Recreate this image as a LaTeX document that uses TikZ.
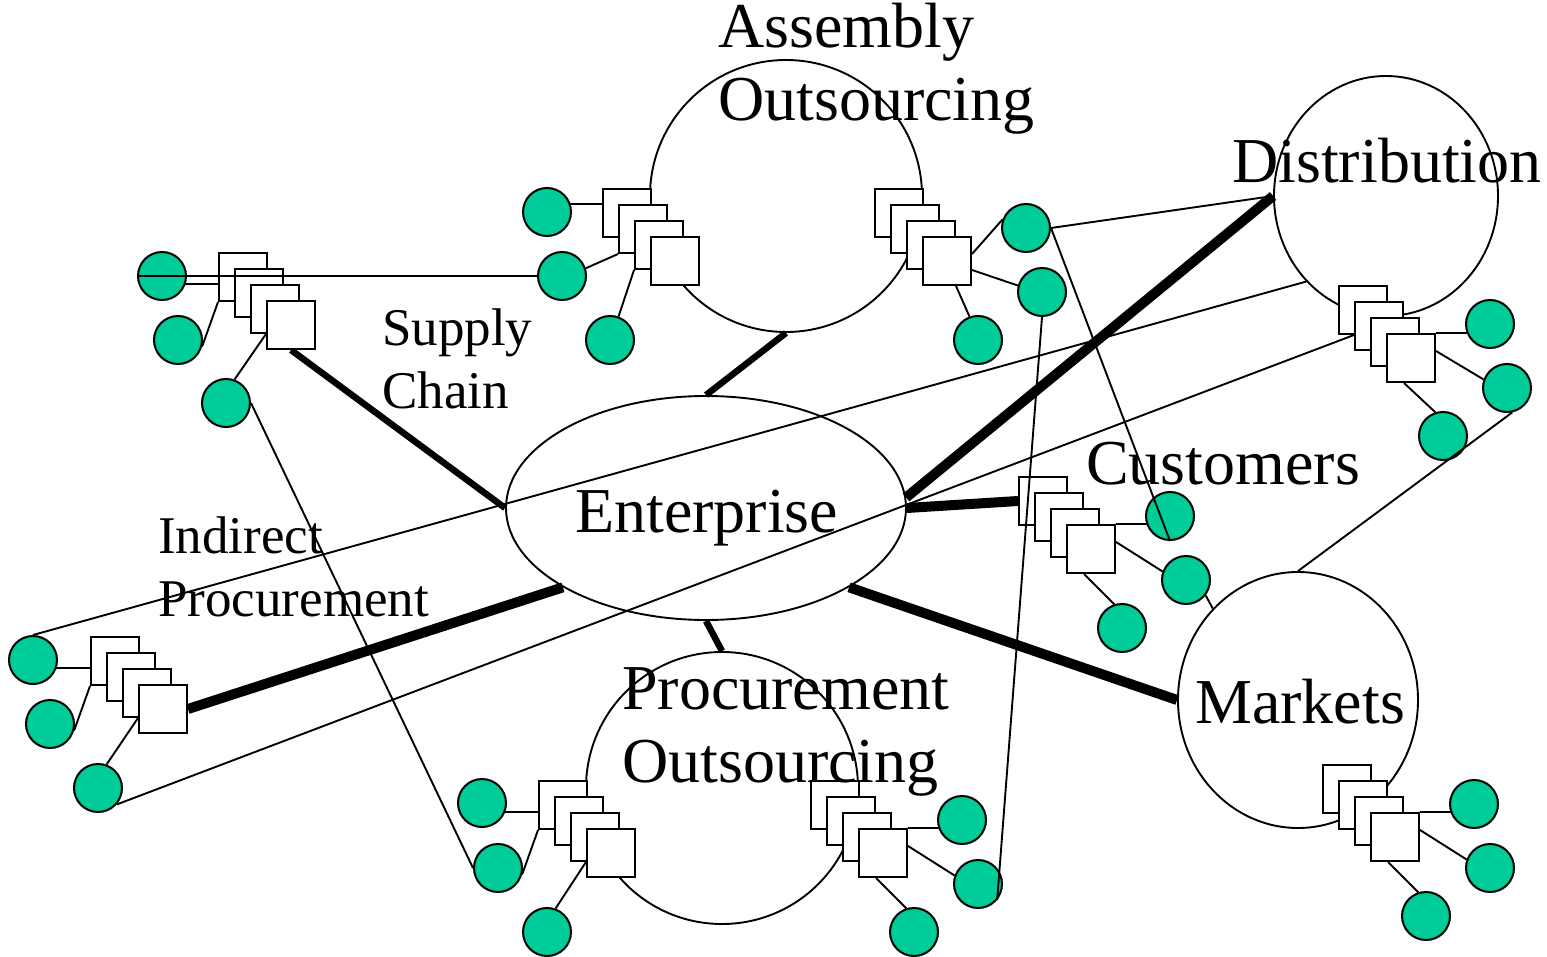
\documentclass[tikz,border=0pt]{standalone}
\usepackage{fontspec}
\setmainfont{Liberation Serif}
\usetikzlibrary{shapes.geometric,calc}
\definecolor{nodegreen}{RGB}{0,204,153}
\pgfdeclarelayer{paper}
\pgfdeclarelayer{wires}
\pgfsetlayers{paper,wires,main}

\tikzset{
  bigshape/.style={draw, line width=1.9pt, inner sep=0pt},
  stackbox/.style={draw, fill=white, line width=2pt, minimum size=48pt, inner sep=0pt, anchor=north west},
  dot/.style={circle, draw, fill=nodegreen, line width=2pt, minimum size=48pt, inner sep=0pt},
  wire/.style={line width=1.9pt},
  heavy/.style={line width=10pt},
  medium/.style={line width=6.5pt},
  lbl/.style={inner sep=0pt, anchor=base west, font=\fontsize{64}{73}\selectfont},
  smalllbl/.style={inner sep=0pt, anchor=base west, font=\fontsize{53}{63}\selectfont},
}

% four overlapping squares, each 16 units further right and down
\newcommand\boxstack[3]{%
  \foreach \k in {1,2,3,4}{\node[stackbox] (#1\k) at ({#2+16*(\k-1)},{#3+16*(\k-1)}) {};}}

\begin{document}
\begin{tikzpicture}[x=1pt, y=-1pt]
\useasboundingbox (0,0) rectangle (1547,957);
\begin{pgfonlayer}{paper}
  \fill[white] (0,0) rectangle (1547,957);
\end{pgfonlayer}

% main groups
\node[bigshape, ellipse, minimum width=400pt, minimum height=224pt] (ent) at (706,508) {};
\node[bigshape, circle, minimum size=272pt] (asm) at (786,196) {};
\node[bigshape, ellipse, minimum width=224pt, minimum height=240pt] (dist) at (1386,196) {};
\node[bigshape, ellipse, minimum width=240pt, minimum height=256pt] (mkt) at (1298,700) {};
\node[bigshape, circle, minimum size=272pt] (proc) at (722,788) {};

% square stacks
\boxstack{A}{218}{252}
\boxstack{B}{602}{188}
\boxstack{C}{874}{188}
\boxstack{D}{1338}{285}
\boxstack{E}{90}{636}
\boxstack{F}{538}{780}
\boxstack{G}{810}{780}
\boxstack{H}{1018}{476}
\boxstack{I}{1322}{764}

% green members
\node[dot] (A-c1) at (162,276) {};
\node[dot] (A-c2) at (178,340) {};
\node[dot] (A-c3) at (226,403) {};
\node[dot] (B-c1) at (547,212) {};
\node[dot] (B-c2) at (562,276) {};
\node[dot] (B-c3) at (610,340) {};
\node[dot] (C-c1) at (1026,228) {};
\node[dot] (C-c2) at (1042,292) {};
\node[dot] (C-c3) at (978,340) {};
\node[dot] (D-c1) at (1490,324) {};
\node[dot] (D-c2) at (1507,388) {};
\node[dot] (D-c3) at (1443,436) {};
\node[dot] (E-c1) at (33,660) {};
\node[dot] (E-c2) at (50,724) {};
\node[dot] (E-c3) at (98,788) {};
\node[dot] (F-c1) at (482,803) {};
\node[dot] (F-c2) at (498,868) {};
\node[dot] (F-c3) at (547,932) {};
\node[dot] (G-c1) at (962,820) {};
\node[dot] (G-c2) at (978,884) {};
\node[dot] (G-c3) at (914,932) {};
\node[dot] (H-c1) at (1170,516) {};
\node[dot] (H-c2) at (1186,580) {};
\node[dot] (H-c3) at (1122,628) {};
\node[dot] (I-c1) at (1474,804) {};
\node[dot] (I-c2) at (1490,868) {};
\node[dot] (I-c3) at (1426,916) {};

\begin{pgfonlayer}{wires}
  % heavy links to the enterprise
  \draw[medium] (A4.south) -- (ent.west);
  \draw[medium] (asm.south) -- (ent.north);
  \draw[medium] (ent.south) -- (proc.north);
  \draw[heavy] (dist.west) -- (ent.3);
  \draw[heavy] (ent.east) -- (H1.west);
  \draw[heavy] (ent.-29.4) -- (mkt.west);
  \draw[heavy] (ent.209.4) -- (E4.east);

  % members fanning out to the left of a stack
  \foreach \s in {A,E,F}{
    \draw[wire] (\s-c1.center |- \s3.north) -- (\s1.west |- \s3.north);
    \draw[wire] (\s-c2.-15) -- (\s1.south west);
    \draw[wire] (\s-c3.70) -- (\s4.west |- \s3.south);
  }
  \draw[wire] (B-c1.center |- B2.north) -- (B1.west |- B2.north);
  \draw[wire] (B-c2.18) -- (B2.south west);
  \draw[wire] (B-c3.70) -- (B3.south west);

  % members fanning out to the right of a stack
  \foreach \s in {D,G,H,I}{
    \draw[wire] (\s4.north east) -- (\s-c1.center |- \s4.north east);
    \draw[wire] (\s4.east |- \s2.south) -- (\s-c2.160);
    \draw[wire] (\s2.east |- \s4.south) -- (\s-c3.108);
  }
  \draw[wire] (C4.east |- C2.south) -- (C-c1.160);
  \draw[wire] (C4.east |- C3.south) -- (C-c2.165);
  \draw[wire] (C3.east |- C4.south) -- (C-c3.110);
\end{pgfonlayer}

% cross links between the groups
\draw[wire] (A-c1.west) -- (B-c2.west);
\draw[wire] (A-c3.east) -- (F-c2.west);
\draw[wire] (C-c1.east) -- (dist.west);
\draw[wire] (C-c1.east) -- (H-c1.south);
\draw[wire] (C-c2.south) -- (G-c2.-40);
\draw[wire] (dist.227) -- (E-c1.north);
\draw[wire] (D2.west |- D1.south) -- (E-c3.-41);
\draw[wire] (D-c2.-78) -- (mkt.north);
\draw[wire] (H-c2.-38) -- (mkt.133);

% labels (the base of a two-line label is its last line)
\node[lbl, align=left] (t-asm) at (718,121) {Assembly\\Outsourcing};
\node[lbl] (t-dist) at (1232,183) {Distribution};
\node[smalllbl, align=left] (t-sc) at (382,408) {Supply\\Chain};
\node[lbl] (t-ent) at (575,532) {Enterprise};
\node[lbl] (t-cust) at (1086,484) {Customers};
\node[smalllbl, align=left] (t-ind) at (158,616) {Indirect\\Procurement};
\node[lbl, align=left] (t-proc) at (622,782) {Procurement\\Outsourcing};
\node[lbl] (t-mkt) at (1195,723) {Markets};
\end{tikzpicture}
\end{document}
